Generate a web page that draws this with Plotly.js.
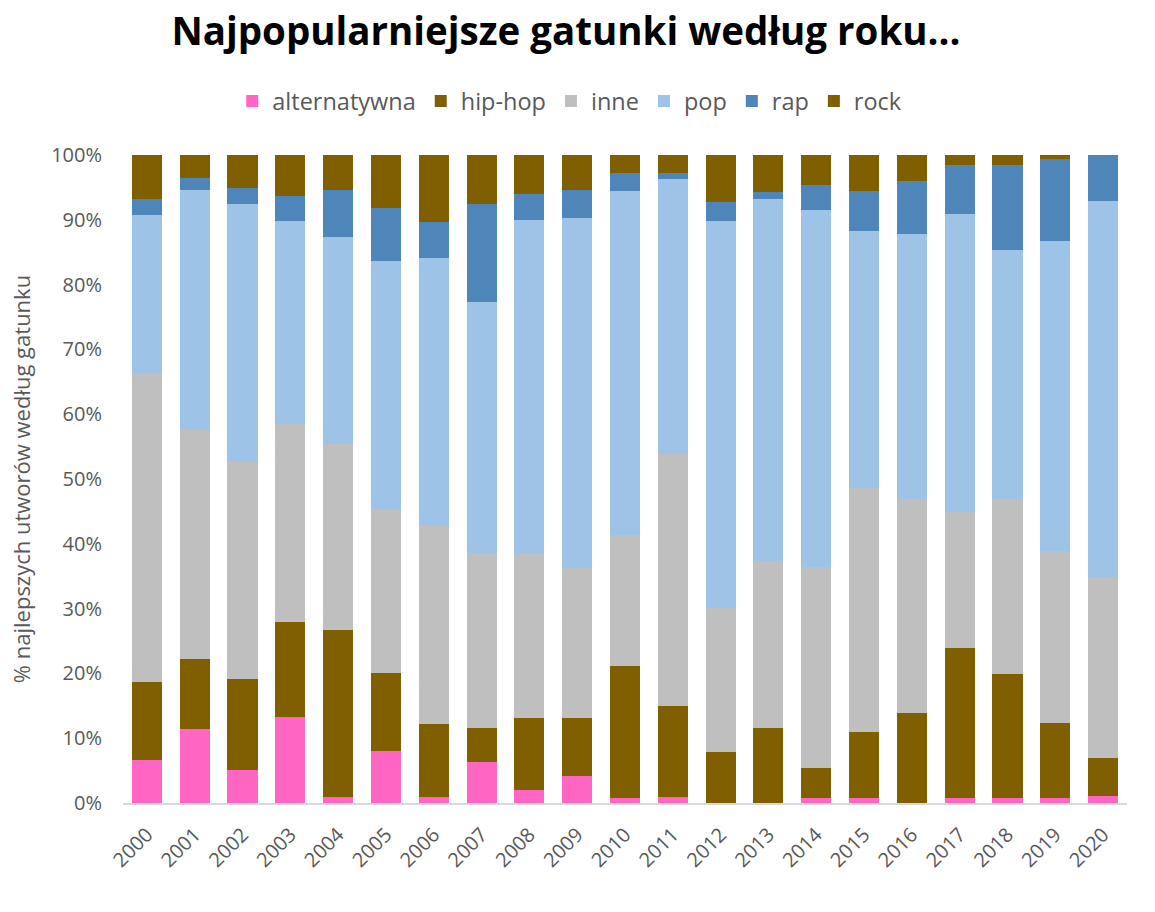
<!DOCTYPE html>
<html>
<head>
<meta charset="utf-8">
<script src="https://cdn.plot.ly/plotly-3.0.1.min.js"></script>
<style>
html,body{margin:0;padding:0;background:#fff;}
#chart{width:1155px;height:912px;}
</style>
</head>
<body>
<div id="chart"></div>
<script>
var years = ['2000','2001','2002','2003','2004','2005','2006','2007','2008','2009','2010',
             '2011','2012','2013','2014','2015','2016','2017','2018','2019','2020'];
var alternatywna = [6.6,11.4,5.1,13.3,0.9,8.0,0.9,6.3,2.0,4.2,0.8,0.9,0,0,0.8,0.8,0,0.8,0.8,0.8,1.1];
var hiphop       = [12.1,10.8,14.0,14.6,25.8,12.1,11.3,5.3,11.1,8.9,20.3,14.1,7.9,11.6,4.6,10.2,13.9,23.1,19.1,11.5,5.8];
var inne         = [47.7,35.4,33.5,30.6,28.7,25.3,30.5,27.0,25.5,23.2,20.3,38.9,22.2,25.7,31.0,37.6,33.0,21.0,27.0,26.6,28.0];
var pop          = [24.3,37.0,39.8,31.3,31.9,38.2,41.4,38.7,51.4,54.0,53.0,42.4,59.7,55.9,55.1,39.7,40.9,46.0,38.4,47.8,58.0];
var rap          = [2.5,1.9,2.5,3.9,7.3,8.2,5.6,15.1,4.0,4.3,2.8,0.9,2.9,1.1,3.9,6.1,8.2,7.6,13.2,12.7,7.1];
var rock         = [6.8,3.5,5.1,6.3,5.4,8.2,10.3,7.6,6.0,5.4,2.8,2.8,7.3,5.7,4.6,5.6,4.0,1.5,1.5,0.6,0];
var seriesNames  = ['alternatywna','hip-hop','inne','pop','rap','rock'];
var yTickVals    = [0,10,20,30,40,50,60,70,80,90,100];
var yTickText    = ['0%','10%','20%','30%','40%','50%','60%','70%','80%','90%','100%'];

var seriesData = [alternatywna, hiphop, inne, pop, rap, rock];
var colors = ['#FF66C4','#7F5F00','#BFBFBF','#9DC3E6','#4F86B9','#7F5F00'];

var traces = seriesData.map(function(vals, i){
  return {
    type:'bar', name:seriesNames[i], x:years, y:vals,
    marker:{color:colors[i], line:{width:0}},
    hoverinfo:'x+y+name'
  };
});

var layout = {
  width:1155, height:912,
  paper_bgcolor:'#ffffff', plot_bgcolor:'#ffffff',
  barmode:'stack', bargap:0.37,
  margin:{l:123, r:28, t:155, b:109},
  font:{family:'Open Sans, sans-serif', color:'#595959'},
  title:{text:'<b>Najpopularniejsze gatunki według roku...</b>',
         font:{family:'Open Sans, sans-serif', size:38.5, color:'#000000'},
         x:0.49, xanchor:'center', y:0.965, yanchor:'middle'},
  legend:{orientation:'h', x:0.445, xanchor:'center', y:1.083, yanchor:'middle',
          font:{size:23.5, color:'#595959'}, traceorder:'normal', itemwidth:30},
  xaxis:{type:'category', tickangle:-45, tickfont:{size:20, color:'#595959'}, ticklabelstandoff:10,
         showline:true, linecolor:'#D9D9D9', linewidth:2, showgrid:false, ticks:'', zeroline:false},
  yaxis:{range:[0,100], tickvals:yTickVals, ticktext:yTickText, tickfont:{size:20, color:'#595959'},
         showgrid:false, zeroline:false, showline:false, ticks:'', ticklabelstandoff:20,
         title:{text:'% najlepszych utworów według gatunku', font:{size:22, color:'#595959'}, standoff:14}}
};

Plotly.newPlot('chart', traces, layout, {displayModeBar:false, staticPlot:true});
</script>
</body>
</html>
